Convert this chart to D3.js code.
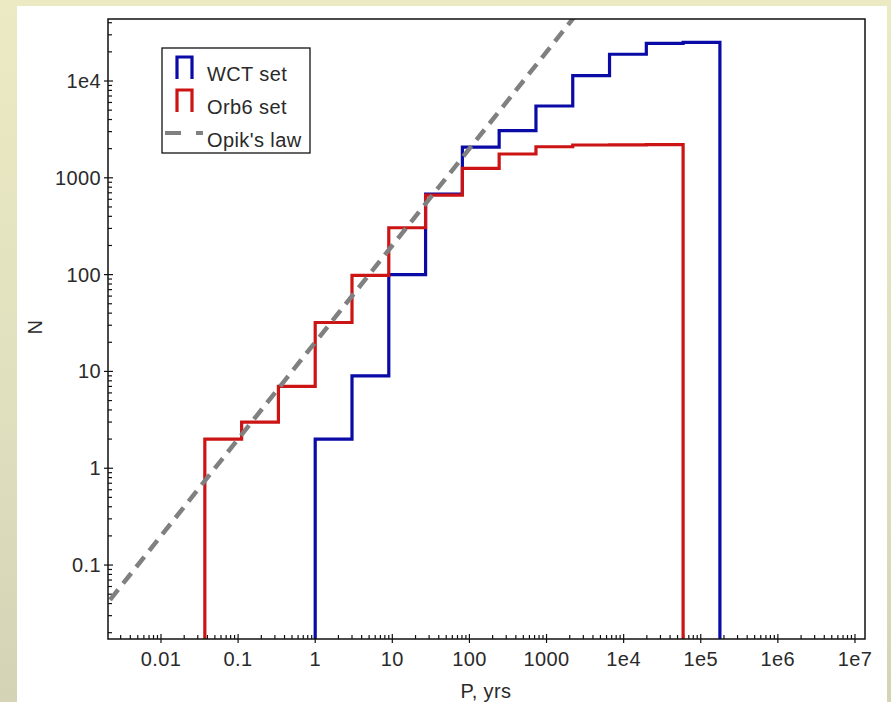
<!DOCTYPE html>
<html>
<head>
<meta charset="utf-8">
<script src="https://cdn.jsdelivr.net/npm/d3@7"></script>
<style>
  html, body { margin: 0; padding: 0; }
  body {
    width: 891px; height: 702px; overflow: hidden;
    background: linear-gradient(to bottom, #ebeac3 0%, #e2e1bf 50%, #d4d3b6 100%);
  }
  svg { display: block; }
  text { font-family: "Liberation Sans", Arial, sans-serif; fill: #2a2a2a; letter-spacing: 0.4px; }
</style>
</head>
<body>
<svg id="chart"></svg>
<script>
// bin edges of the period histogram (factor 3 bins), yrs
const binEdges = [1/27, 1/9, 1/3, 1, 3, 9, 27, 81, 243, 729, 2187, 6561, 19683, 59049, 177147];

// Orb6 set, starts at first edge
const orb6Counts = [2, 3, 7, 32, 98, 305, 664, 1254, 1762, 2094, 2183, 2190, 2200];
const orb6Start = 0;

// WCT set, starts at P = 1
const wctCounts = [2, 9, 100, 680, 2070, 3070, 5520, 11350, 18900, 24500, 25100];
const wctStart = 3;

// Opik's law reference line (end points, clipped by the frame)
const opikP = [0.001, 10000];
const opikN = [0.02, 200000];

const xTickValues = [0.01, 0.1, 1, 10, 100, 1000, 1e4, 1e5, 1e6, 1e7];
const xTickLabels = ["0.01", "0.1", "1", "10", "100", "1000", "1e4", "1e5", "1e6", "1e7"];
const yTickValues = [0.1, 1, 10, 100, 1000, 1e4];
const yTickLabels = ["0.1", "1", "10", "100", "1000", "1e4"];

const legendLabels = ["WCT set", "Orb6 set", "Opik's law"];
const colors = { wct: "#0a0aa6", orb6: "#cc1414", opik: "#808080" };

const config = {
  width: 891, height: 702,
  left: 108, right: 865, top: 19, bottom: 639
};

const svg = d3.select("#chart")
    .attr("width", config.width)
    .attr("height", config.height);

// white panel on the beige page
svg.append("rect")
    .attr("x", 17).attr("y", 6)
    .attr("width", 870).attr("height", 700)
    .attr("fill", "#ffffff");

const xScale = d3.scaleLog()
    .domain([0.002055, 1.349e7])
    .range([config.left, config.right]);

const yScale = d3.scaleLog()
    .domain([0.01722, 43700])
    .range([config.bottom, config.top]);

svg.append("clipPath").attr("id", "plotClip")
  .append("rect")
    .attr("x", config.left).attr("y", config.top)
    .attr("width", config.right - config.left)
    .attr("height", config.bottom - config.top);

// minor ticks (2..9 per decade) inside the domain
function minorTicks(scale) {
  const [a, b] = scale.domain();
  const out = [];
  for (let e = Math.floor(Math.log10(a)); e <= Math.ceil(Math.log10(b)); e++) {
    for (let m = 2; m <= 9; m++) {
      const v = m * Math.pow(10, e);
      if (v > a && v < b) out.push(v);
    }
  }
  return out;
}

const tickG = svg.append("g").attr("stroke", "#111").attr("stroke-width", 1.2);

// x axis ticks
tickG.selectAll(".x-minor")
  .data(minorTicks(xScale))
  .join("line")
    .attr("x1", d => xScale(d)).attr("x2", d => xScale(d))
    .attr("y1", config.bottom).attr("y2", config.bottom - 4);
tickG.selectAll(".x-major")
  .data(xTickValues)
  .join("line")
    .attr("x1", d => xScale(d)).attr("x2", d => xScale(d))
    .attr("y1", config.bottom + 4).attr("y2", config.bottom - 5);

// y axis ticks
tickG.selectAll(".y-minor")
  .data(minorTicks(yScale))
  .join("line")
    .attr("y1", d => yScale(d)).attr("y2", d => yScale(d))
    .attr("x1", config.left).attr("x2", config.left + 4);
tickG.selectAll(".y-major")
  .data(yTickValues)
  .join("line")
    .attr("y1", d => yScale(d)).attr("y2", d => yScale(d))
    .attr("x1", config.left - 4).attr("x2", config.left + 5);

// tick labels
svg.selectAll(".x-label")
  .data(xTickValues)
  .join("text")
    .attr("x", d => xScale(d))
    .attr("y", config.bottom + 27)
    .attr("text-anchor", "middle")
    .style("font-size", "20px")
    .text((d, i) => xTickLabels[i]);

svg.selectAll(".y-label")
  .data(yTickValues)
  .join("text")
    .attr("x", config.left - 7)
    .attr("y", d => yScale(d) + 7)
    .attr("text-anchor", "end")
    .style("font-size", "20px")
    .text((d, i) => yTickLabels[i]);

// axis titles
svg.append("text")
    .attr("x", 486).attr("y", 698)
    .attr("text-anchor", "middle")
    .style("font-size", "20px")
    .text("P, yrs");

svg.append("text")
    .attr("transform", "translate(42,327) rotate(-90)")
    .attr("text-anchor", "middle")
    .style("font-size", "20px")
    .text("N");

// step histogram outline
function stepPoints(counts, start) {
  const yMin = yScale.domain()[0];
  const pts = [[binEdges[start], yMin]];
  counts.forEach((c, i) => {
    pts.push([binEdges[start + i], c]);
    pts.push([binEdges[start + i + 1], c]);
  });
  pts.push([binEdges[start + counts.length], yMin]);
  return pts;
}

const line = d3.line()
    .x(d => xScale(d[0]))
    .y(d => yScale(d[1]));

const plot = svg.append("g").attr("clip-path", "url(#plotClip)");

plot.append("path")
    .attr("d", line(stepPoints(wctCounts, wctStart)))
    .attr("fill", "none")
    .attr("stroke", colors.wct)
    .attr("stroke-width", 3.2);

plot.append("path")
    .attr("d", line(stepPoints(orb6Counts, orb6Start)))
    .attr("fill", "none")
    .attr("stroke", colors.orb6)
    .attr("stroke-width", 3.2);

plot.append("path")
    .attr("d", line(opikP.map((p, i) => [p, opikN[i]])))
    .attr("fill", "none")
    .attr("stroke", colors.opik)
    .attr("stroke-width", 4.5)
    .attr("stroke-dasharray", "13,8");

// frame
svg.append("rect")
    .attr("x", config.left).attr("y", config.top)
    .attr("width", config.right - config.left)
    .attr("height", config.bottom - config.top)
    .attr("fill", "none")
    .attr("stroke", "#111")
    .attr("stroke-width", 1.5);

// legend
const legend = svg.append("g");
legend.append("rect")
    .attr("x", 162).attr("y", 48)
    .attr("width", 148).attr("height", 105)
    .attr("fill", "#fff")
    .attr("stroke", "#111")
    .attr("stroke-width", 1.3);

[colors.wct, colors.orb6].forEach((c, i) => {
  const y0 = 57 + i * 33;
  legend.append("path")
      .attr("d", `M177,${y0 + 22}V${y0}H192V${y0 + 22}`)
      .attr("fill", "none")
      .attr("stroke", c)
      .attr("stroke-width", 3.2);
});

legend.append("line")
    .attr("x1", 165).attr("x2", 203)
    .attr("y1", 133).attr("y2", 133)
    .attr("stroke", colors.opik)
    .attr("stroke-width", 4)
    .attr("stroke-dasharray", "16,15");

legend.selectAll(".leg-text")
  .data(legendLabels)
  .join("text")
    .attr("x", 207)
    .attr("y", (d, i) => 81 + i * 33)
    .style("font-size", "20px")
    .text(d => d);
</script>
</body>
</html>
